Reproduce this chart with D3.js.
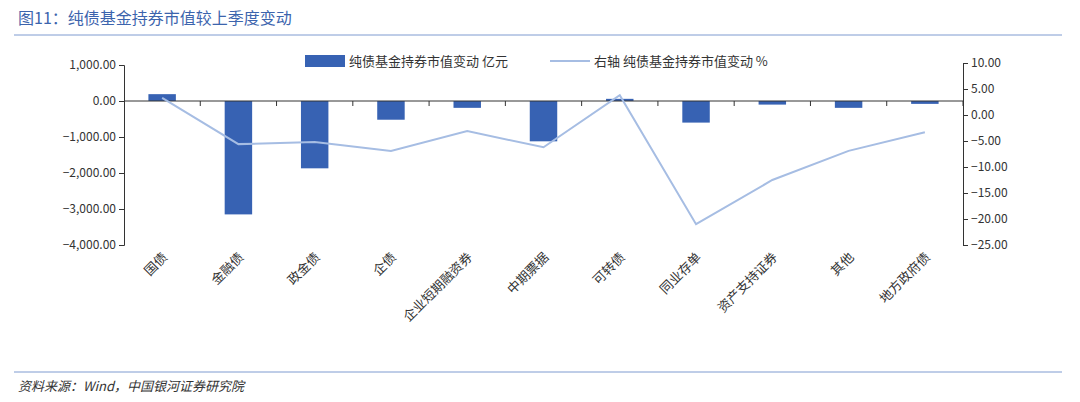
<!DOCTYPE html><html><head><meta charset="utf-8"><script src="https://cdn.jsdelivr.net/npm/d3@7"></script>
<style>body{margin:0;background:#fff}text{font-family:"Noto Sans CJK SC","Noto Sans",sans-serif}</style></head><body><svg width="1080" height="402"></svg><script>
const categories=["国债","金融债","政金债","企债","企业短期融资券","中期票据","可转债","同业存单","资产支持证券","其他","地方政府债"];
const barValues=[190,-3150,-1870,-520,-190,-1120,60,-600,-100,-190,-80];
const lineValues=[3.3,-5.6,-5.2,-6.9,-3.1,-6.2,3.8,-21,-12.5,-6.9,-3.3];
const leftTicks=[1000,0,-1000,-2000,-3000,-4000];
const rightTicks=[10,5,0,-5,-10,-15,-20,-25];
const svg=d3.select("svg");
svg.append("text").attr("x",18).attr("y",24).attr("fill","#3c64ad").attr("font-size",16).text("图11：纯债基金持券市值较上季度变动");
svg.append("line").attr("x1",14).attr("x2",1062).attr("y1",35).attr("y2",35).attr("stroke","#7f9bd0");
svg.append("line").attr("x1",14).attr("x2",1062).attr("y1",372).attr("y2",372).attr("stroke","#7f9bd0");
svg.append("text").attr("x",18).attr("y",391).attr("fill","#333").attr("font-size",13).attr("font-style","italic").text("资料来源：Wind，中国银河证券研究院");
const x=d3.scaleBand().domain(categories).range([124,963]).paddingInner(0.64).paddingOuter(0.32);
const yL=d3.scaleLinear().domain([-4000,1000]).range([245,65]);
const yR=d3.scaleLinear().domain([-25,10]).range([245,63]);
const fmt=d3.format(",.2f");
const gl=svg.append("g").attr("transform","translate(124,0)").call(d3.axisLeft(yL).tickValues(leftTicks).tickFormat(fmt).tickSizeOuter(0).tickSize(5));
const gr=svg.append("g").attr("transform","translate(963,0)").call(d3.axisRight(yR).tickValues(rightTicks).tickFormat(fmt).tickSizeOuter(0).tickSize(5));
[gl,gr].forEach(g=>{g.selectAll("text").attr("font-size",12).attr("fill","#333").attr("font-family","Liberation Sans, sans-serif");g.selectAll("line,path").attr("stroke","#333");});
svg.selectAll(".bar").data(categories).enter().append("rect").attr("x",d=>x(d)).attr("width",x.bandwidth())
 .attr("y",(d,i)=>yL(Math.max(0,barValues[i]))).attr("height",(d,i)=>Math.abs(yL(barValues[i])-yL(0))).attr("fill","#3762b3");
svg.append("line").attr("x1",124).attr("x2",963).attr("y1",yL(0)).attr("y2",yL(0)).attr("stroke","#333");
x.domain().forEach((d,i)=>{const tx=124+i*(839/11)+839/11;svg.append("line").attr("x1",tx).attr("x2",tx).attr("y1",yL(0)).attr("y2",yL(0)+5).attr("stroke","#333");});
const line=d3.line().x((d,i)=>x(categories[i])+x.bandwidth()/2).y(d=>yR(d));
svg.append("path").datum(lineValues).attr("d",line).attr("fill","none").attr("stroke","#a6bde3").attr("stroke-width",2);
categories.forEach(c=>{svg.append("text").attr("transform",`translate(${x(c)+x.bandwidth()/2+6},258) rotate(-45)`).attr("text-anchor","end").attr("font-size",13).attr("fill","#333").text(c);});
svg.append("rect").attr("x",305).attr("y",55).attr("width",40).attr("height",12).attr("fill","#3762b3");
svg.append("text").attr("x",349).attr("y",66).attr("font-size",13).attr("fill","#333").text("纯债基金持券市值变动 亿元");
svg.append("line").attr("x1",550).attr("x2",590).attr("y1",61).attr("y2",61).attr("stroke","#a6bde3").attr("stroke-width",2);
svg.append("text").attr("x",594).attr("y",66).attr("font-size",13).attr("fill","#333").text("右轴 纯债基金持券市值变动 %");
</script></body></html>
